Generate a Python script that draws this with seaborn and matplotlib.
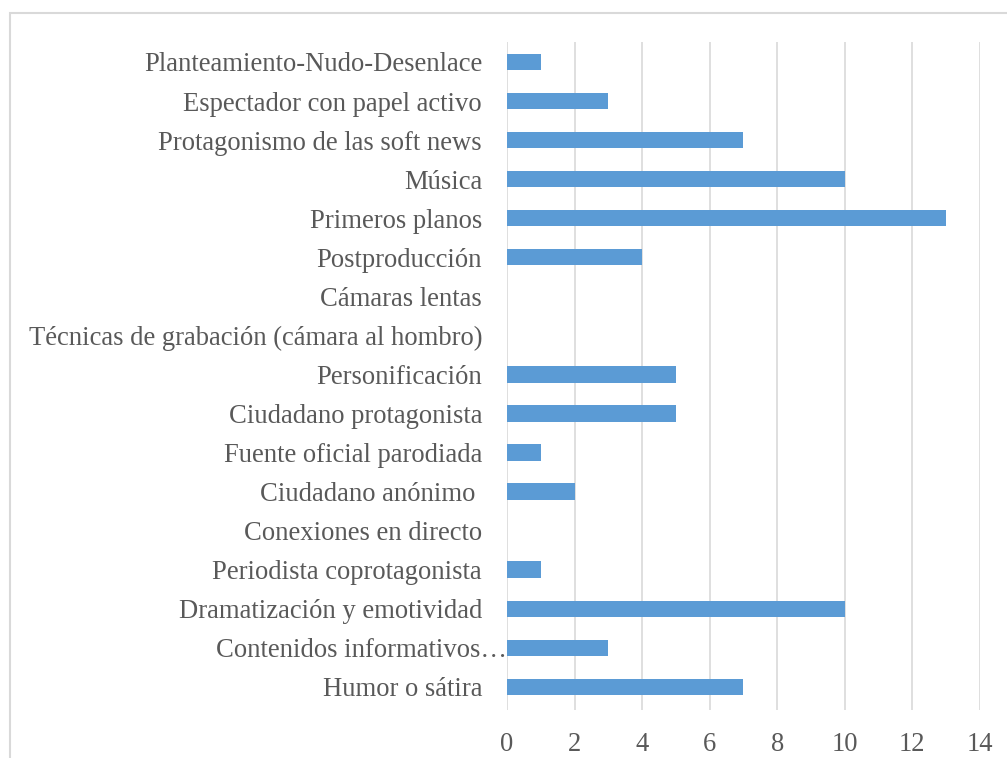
"""Horizontal bar chart: frequency of narrative features."""

import matplotlib
matplotlib.use("Agg")
import matplotlib.pyplot as plt
import matplotlib.transforms as mtransforms
from matplotlib.patches import Rectangle
import pandas as pd
import seaborn as sns

# categories listed top to bottom as they appear in the chart
categories = [
    "Planteamiento-Nudo-Desenlace",
    "Espectador con papel activo",
    "Protagonismo de las soft news",
    "Música",
    "Primeros planos",
    "Postproducción",
    "Cámaras lentas",
    "Técnicas de grabación (cámara al hombro)",
    "Personificación",
    "Ciudadano protagonista",
    "Fuente oficial parodiada",
    "Ciudadano anónimo ",
    "Conexiones en directo",
    "Periodista coprotagonista",
    "Dramatización y emotividad",
    "Contenidos informativos…",
    "Humor o sátira",
]
counts = [1, 3, 7, 10, 13, 4, 0, 0, 5, 5, 1, 2, 0, 1, 10, 3, 7]
x_ticks = [0, 2, 4, 6, 8, 10, 12, 14]

df = pd.DataFrame({"category": categories, "count": counts})

sns.set_style("white")
plt.rcParams["font.family"] = ["Liberation Serif", "DejaVu Serif"]

fig = plt.figure(figsize=(10.07, 7.58), dpi=100)
ax = fig.add_axes([0.5035, 0.063, 0.4695, 0.881])

sns.barplot(
    data=df,
    x="count",
    y="category",
    color="#5b9bd5",
    saturation=1,
    width=0.42,
    orient="h",
    linewidth=0,
    ax=ax,
)

ax.set_xlim(0, 14)
ax.set_ylim(16.6, -0.5)
ax.set_xticks(x_ticks)
ax.set_xlabel("")
ax.set_ylabel("")
ax.grid(axis="x", color="#d9d9d9", linewidth=1.2)
ax.set_axisbelow(True)
for side in ax.spines.values():
    side.set_visible(False)
ax.tick_params(axis="both", length=0, labelsize=19.2, labelcolor="#595959")
ax.tick_params(axis="y", pad=18)
ax.tick_params(axis="x", pad=16)

# truncated label sticks out to the bar start, like in the original
for lab in ax.get_yticklabels():
    if lab.get_text().startswith("Contenidos"):
        shift = mtransforms.ScaledTranslation(0.25, 0, fig.dpi_scale_trans)
        lab.set_transform(lab.get_transform() + shift)

# outer chart border (cropped at right and bottom)
fig.patches.append(
    Rectangle(
        (10 / 1007, -0.1),
        1.2,
        1 - 13 / 758 + 0.1,
        transform=fig.transFigure,
        fill=False,
        edgecolor="#d9d9d9",
        linewidth=1.5,
    )
)

fig.savefig("out.png", dpi=100)
plt.close(fig)
